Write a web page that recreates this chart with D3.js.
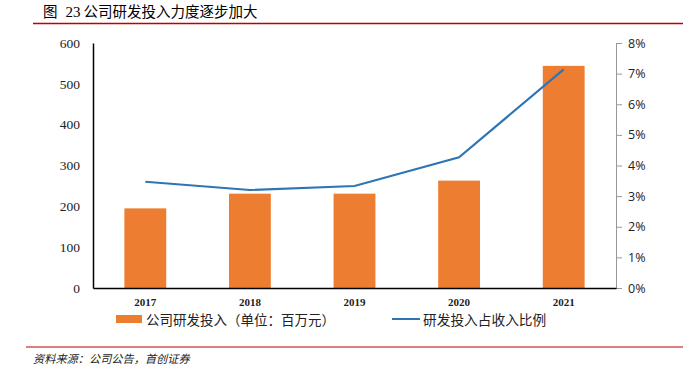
<!DOCTYPE html>
<html><head><meta charset="utf-8">
<script src="https://cdn.jsdelivr.net/npm/d3@7"></script>
<style>body{margin:0;background:#fff}svg{display:block}</style>
</head><body>
<svg id="c" width="683" height="378"></svg>
<script>
const categories = ["2017","2018","2019","2020","2021"];
const rdSpend = [195, 231, 231, 263, 544];
const rdRatio = [3.47, 3.20, 3.33, 4.27, 7.14];
const leftTicks = [0,100,200,300,400,500,600];
const rightTicks = [0,1,2,3,4,5,6,7,8];
const titlePrefix = "图";
const titleNum = "23";
const titleText = "公司研发投入力度逐步加大";
const sourceText = "资料来源：公司公告，首创证券";
const legendBar = "公司研发投入（单位：百万元）";
const legendLine = "研发投入占收入比例";

const svg = d3.select("#c");
const L = 93, R = 616, T = 43, B = 288;
const x = d3.scaleBand().domain(categories).range([L, R]).paddingInner(0.6).paddingOuter(0.3);
const yL = d3.scaleLinear().domain([0, 600]).range([B, T]);
const yR = d3.scaleLinear().domain([0, 8]).range([B, T]);
const serif = "'Liberation Serif','DejaVu Serif',serif";
const sans = "'Open Sans','Liberation Sans',sans-serif";
const cjk = "'Noto Sans CJK SC',sans-serif";

// title
const tt = svg.append("text").attr("x", 43).attr("y", 17).attr("font-size", 14.5).attr("fill", "#000");
tt.append("tspan").attr("font-family", cjk).text(titlePrefix);
tt.append("tspan").attr("dx", 8).attr("font-family", serif).attr("font-size", 15).text(titleNum);
tt.append("tspan").attr("dx", 3).attr("font-family", cjk).text(titleText);
svg.append("line").attr("x1", 33).attr("x2", 683).attr("y1", 23.5).attr("y2", 23.5).attr("stroke", "#c00000").attr("stroke-width", 1.5);

// bars
svg.selectAll("rect.bar").data(categories).join("rect").attr("class", "bar")
  .attr("x", d => x(d)).attr("width", x.bandwidth())
  .attr("y", (d, i) => yL(rdSpend[i])).attr("height", (d, i) => B - yL(rdSpend[i]))
  .attr("fill", "#ed7d31");

// line
const line = d3.line().x((d, i) => x(categories[i]) + x.bandwidth() / 2).y(d => yR(d));
svg.append("path").datum(rdRatio).attr("d", line).attr("fill", "none").attr("stroke", "#2e75b6").attr("stroke-width", 2.2);

// left axis
const gl = svg.append("g").attr("transform", `translate(${L},0)`)
  .call(d3.axisLeft(yL).tickValues(leftTicks).tickSize(0).tickPadding(13));
gl.select(".domain").attr("stroke", "#000").attr("stroke-width", 1.5);
gl.selectAll("text").attr("font-family", serif).attr("font-size", 13.5).attr("fill", "#222");

// right axis
const gr = svg.append("g").attr("transform", `translate(${R},0)`)
  .call(d3.axisRight(yR).tickValues(rightTicks).tickSize(6).tickSizeOuter(6).tickPadding(6).tickFormat(d => d + "%"));
gr.select(".domain").attr("stroke", "#999");
gr.selectAll(".tick line").attr("stroke", "#999");
gr.selectAll("text").attr("font-family", sans).attr("font-size", 12.5).attr("fill", "#222");

// bottom axis
const gb = svg.append("g").attr("transform", `translate(0,${B})`)
  .call(d3.axisBottom(x).tickSize(0).tickPadding(10).tickSizeOuter(0));
gb.select(".domain").attr("stroke", "#000").attr("stroke-width", 1.5);
gb.selectAll("text").attr("font-family", serif).attr("font-size", 11).attr("font-weight", "bold").attr("fill", "#222");

// legend
svg.append("rect").attr("x", 116).attr("y", 315).attr("width", 26).attr("height", 8).attr("fill", "#ed7d31");
svg.append("text").attr("x", 146).attr("y", 324.5).attr("font-family", cjk).attr("font-size", 13.5).attr("fill", "#222").text(legendBar);
svg.append("line").attr("x1", 392).attr("x2", 420).attr("y1", 319).attr("y2", 319).attr("stroke", "#2e75b6").attr("stroke-width", 2);
svg.append("text").attr("x", 423).attr("y", 324.5).attr("font-family", cjk).attr("font-size", 13.7).attr("fill", "#222").text(legendLine);

// footer
svg.append("line").attr("x1", 26).attr("x2", 683).attr("y1", 347).attr("y2", 347).attr("stroke", "#c00000").attr("stroke-width", 1.2);
svg.append("text").attr("x", 33).attr("y", 363).attr("font-family", cjk).attr("font-size", 11.2).attr("font-style", "italic").attr("fill", "#222").text(sourceText);
</script>
</body></html>
